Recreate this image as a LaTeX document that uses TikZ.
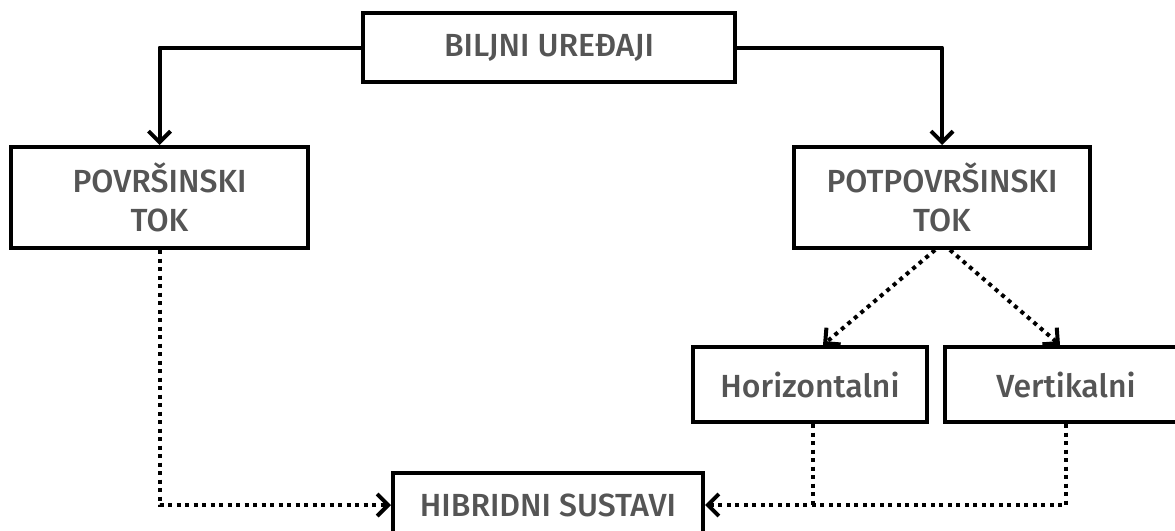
\documentclass[tikz,border=0pt]{standalone}
\usepackage{fontspec}
\setmainfont{Fira Sans}[UprightFont=* Medium]
\usepackage{tikz}
\usetikzlibrary{arrows.meta}
\definecolor{txtgray}{HTML}{555555}

\begin{document}
\begin{tikzpicture}[x=1pt,y=-1pt,
  >={Straight Barb[length=11pt,width=22pt]},
  box/.style={draw=black,line width=4pt,text=txtgray,font=\fontsize{32}{39}\selectfont,
    align=center,inner sep=0pt},
  solidline/.style={line width=4pt,line join=round},
  dotline/.style={line width=4pt,dash pattern=on 4pt off 4.5pt}]
\useasboundingbox (0,0) rectangle (1175,530);

\node[box,minimum width=372pt,minimum height=69pt] (bu) at (549,47.5) {BILJNI UREĐAJI};
\node[box,minimum width=297pt,minimum height=101pt] (pt) at (159.5,197.5) {POVRŠINSKI\\TOK};
\node[box,minimum width=296pt,minimum height=101pt] (ppt) at (942,197.5) {POTPOVRŠINSKI\\TOK};
\node[box,minimum width=234pt,minimum height=75pt] (hz) at (810,384.5) {Horizontalni};
\node[box,minimum width=242pt,minimum height=75pt] (vt) at (1066,384.5) {Vertikalni};
\node[box,minimum width=310pt,minimum height=64pt] (hs) at (548,505) {HIBRIDNI SUSTAVI};

\draw[solidline,->] (bu.west) -| (pt.north);
\draw[solidline,->] (bu.east) -| (ppt.north);

\draw[dotline,->] ([xshift=-7pt]ppt.south) -- ([xshift=13pt]hz.north);
\draw[dotline,->] ([xshift=8pt]ppt.south) -- ([xshift=-6pt]vt.north);

\draw[dotline,->] (pt.south) |- (hs.west);
\draw[dotline,->] (vt.south) |- (hs.east);
\draw[dotline] ([xshift=3pt]hz.south) -- ([xshift=3pt]hz.south |- hs.east);
\end{tikzpicture}
\end{document}
